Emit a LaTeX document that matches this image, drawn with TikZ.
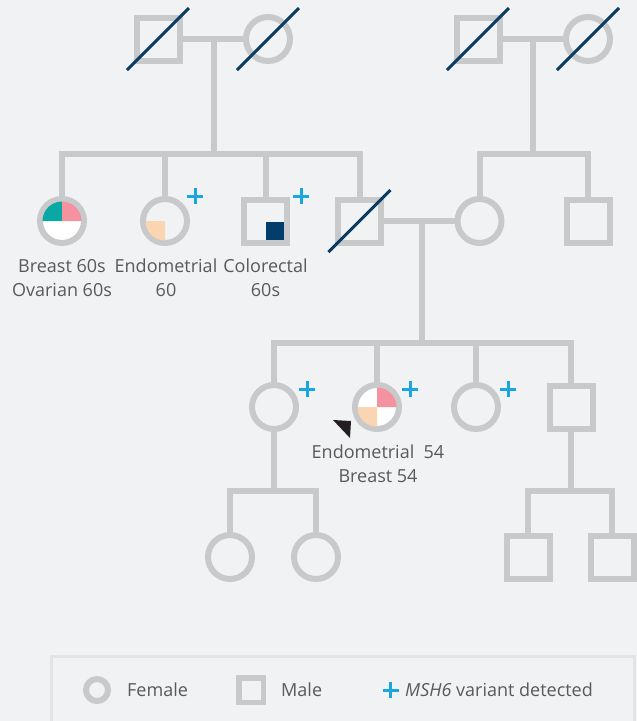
\documentclass[tikz,border=0pt]{standalone}
\usepackage{fontspec}
\setmainfont{Open Sans}
\definecolor{bgcol}{HTML}{F1F2F4}
\definecolor{pedgray}{HTML}{C8C9CB}
\definecolor{legendline}{HTML}{E2E4E7}
\definecolor{navy}{HTML}{0B3C61}
\definecolor{crcnavy}{HTML}{023D6B}
\definecolor{brteal}{HTML}{0AA8A5}
\definecolor{brpink}{HTML}{F4939F}
\definecolor{endopeach}{HTML}{FBD4B1}
\definecolor{plusblue}{HTML}{19A6E1}
\definecolor{txtgray}{HTML}{58595B}
\definecolor{arrowblack}{HTML}{231F20}

\tikzset{
  pedline/.style={line width=6pt, draw=pedgray, line join=miter},
  female/.style={circle, draw=pedgray, line width=6pt, minimum size=44pt, inner sep=0pt},
  male/.style={rectangle, draw=pedgray, line width=6pt, minimum size=43pt, inner sep=0pt},
  deceased/.style={line width=3pt, draw=navy},
  plusmark/.style={line width=3pt, draw=plusblue},
  lbl/.style={text=txtgray, align=center, inner sep=0pt, anchor=north,
              font=\fontsize{18}{24}\selectfont},
  legtxt/.style={text=txtgray, inner sep=0pt, anchor=base west,
              font=\fontsize{18}{24}\selectfont},
}
% a blue "+" marking a detected variant
\newcommand{\varplus}[1]{%
  \draw[plusmark] ($(#1)+(-8,0)$) -- ($(#1)+(8,0)$);
  \draw[plusmark] ($(#1)+(0,-8)$) -- ($(#1)+(0,8)$);}
% a quarter of a circle's interior: centre, start angle, end angle, colour
\newcommand{\quadfill}[4]{%
  \fill[#4] (#1) -- ++(#2:19.5pt) arc[start angle=#2, end angle=#3, radius=19.5pt] -- cycle;}
% the line across a deceased person's symbol
\newcommand{\deadline}[1]{%
  \draw[deceased] ($(#1)+(-31,31)$) -- ($(#1)+(31,-31)$);}

\usetikzlibrary{calc}

\begin{document}
\begin{tikzpicture}[x=1pt, y=-1pt]
\useasboundingbox (0,0) rectangle (637,721);
\fill[bgcol] (0,0) rectangle (637,721);

% ---------- generation I ----------
\node[male]   (gpA) at (158,39) {};
\node[female] (gpB) at (268,39) {};
\node[male]   (gpC) at (478,39) {};
\node[female] (gpD) at (588,39) {};

% ---------- generation II ----------
\node[female, fill=white] (iiE) at (62,221) {};
\node[female] (iiF) at (165,221) {};
\node[male]   (iiG) at (265.5,221) {};
\node[male]   (iiH) at (359.5,221) {};
\node[female] (iiI) at (479.5,221) {};
\node[male]   (iiJ) at (588,221) {};

% ---------- generation III ----------
\node[female] (iiiK) at (274,407) {};
\node[female, fill=white] (iiiL) at (377,407) {};
\node[female] (iiiM) at (476,407) {};
\node[male]   (iiiN) at (571,407) {};

% ---------- generation IV ----------
\node[female] (ivO) at (230,557) {};
\node[female] (ivP) at (316,557) {};
\node[male]   (ivQ) at (528,557) {};
\node[male]   (ivR) at (612,557) {};

% ---------- couples and descent lines ----------
\coordinate (mAB) at (214,39);
\coordinate (sAB) at (214,154);
\coordinate (mCD) at (533,39);
\coordinate (sCD) at (533,154);
\coordinate (mHI) at (422,221);
\coordinate (sHI) at (422,343);
\coordinate (sK)  at (274,491);
\coordinate (sN)  at (571,491);

\draw[pedline] (gpA) -- (gpB);
\draw[pedline] (gpC) -- (gpD);
\draw[pedline] (mAB) -- (sAB);
\draw[pedline] (mCD) -- (sCD);
\draw[pedline] (iiE) |- (sAB) -| (iiH);
\draw[pedline] (iiF) -- (iiF |- sAB);
\draw[pedline] (iiG) -- (iiG |- sAB);
\draw[pedline] (iiI) |- (sCD) -| (iiJ);
\draw[pedline] (iiH) -- (iiI);
\draw[pedline] (mHI) -- (sHI);
\draw[pedline] (iiiK) |- (sHI) -| (iiiN);
\draw[pedline] (iiiL) -- (iiiL |- sHI);
\draw[pedline] (iiiM) -- (iiiM |- sHI);
\draw[pedline] (iiiK) -- (sK);
\draw[pedline] (ivO) |- (sK) -| (ivP);
\draw[pedline] (iiiN) -- (sN);
\draw[pedline] (ivQ) |- (sN) -| (ivR);

% ---------- affected status ----------
\quadfill{iiE.center}{90}{180}{brteal}
\quadfill{iiE.center}{0}{90}{brpink}
\quadfill{iiF.center}{180}{270}{endopeach}
\fill[crcnavy] ($(iiG.center)+(0.5,1)$) rectangle ++(18,18);
\quadfill{iiiL.center}{0}{90}{brpink}
\quadfill{iiiL.center}{180}{270}{endopeach}

% ---------- deceased ----------
\deadline{gpA}
\deadline{gpB}
\deadline{gpC}
\deadline{gpD}
\deadline{iiH}

% ---------- variant carriers ----------
\varplus{195,196}
\varplus{301,196}
\varplus{307,389}
\varplus{410,389}
\varplus{508,389}

% ---------- proband arrow ----------
\fill[arrowblack] (333,420) -- (351,421) -- (350,438) -- cycle;

% ---------- diagnoses ----------
\node[lbl] (dxE) at (62,259) {Breast 60s\\Ovarian 60s};
\node[lbl] (dxF) at (166,259) {Endometrial\\60};
\node[lbl] (dxG) at (265.5,259) {Colorectal\\60s};
\node[lbl] (dxL) at (378,444.5) {Endometrial\ \ 54\\Breast 54};

% ---------- legend ----------
\draw[line width=3pt, draw=legendline] (51.5,725) -- (51.5,656.5) -- (634.5,656.5) -- (634.5,725);
\node[circle, draw=pedgray, line width=6pt, minimum size=22pt, inner sep=0pt] (legF) at (97,690) {};
\node[legtxt] (legFt) at (127,696) {Female};
\node[rectangle, draw=pedgray, line width=5.5pt, minimum size=24.5pt, inner sep=0pt] (legM) at (251,690) {};
\node[legtxt] (legMt) at (281,696) {Male};
\varplus{390.5,690}
\node[legtxt] (legVt) at (405,696) {\textit{MSH6} variant detected};
\end{tikzpicture}
\end{document}
